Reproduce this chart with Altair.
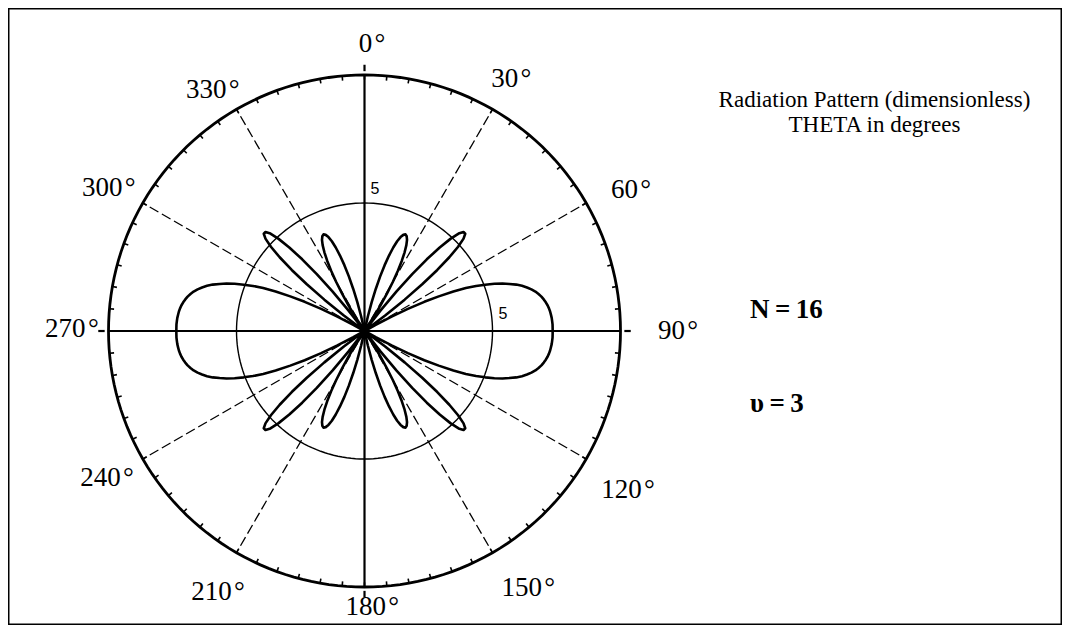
import altair as alt
import pandas as pd

# ---------------- data ----------------
# Radiation pattern for one quadrant (THETA measured from 0 deg at top, clockwise).
# The picture is symmetric about both axes, so the other quadrants mirror these values.
theta_quadrant = list(range(0, 91))
r_quadrant = (
    [0, 0, 0, 0, 0, 0, 0, 0, 0, 0, 0, 0]                                   # 0-11
    + [0, 0.58, 1.16, 1.70, 2.22, 2.69, 3.10, 3.45, 3.73, 3.93, 4.05, 4.10,
       4.05, 3.93, 3.73, 3.45, 3.10, 2.69, 2.22, 1.70, 1.16, 0.58, 0]      # 12-34
    + [0, 0, 0]                                                            # 35-37
    + [1.01, 1.99, 2.90, 3.71, 4.39, 4.92, 5.29, 5.47, 5.47, 5.29, 4.92,
       4.39, 3.71, 2.90, 1.99, 1.01, 0]                                    # 38-54
    + [0, 0, 0, 0, 0, 0]                                                   # 55-60
    + [0.5, 1.2, 1.9, 2.6, 3.2, 3.8, 4.3, 4.7, 5.05, 5.4, 5.7, 5.95, 6.2,
       6.4, 6.57, 6.72, 6.85, 6.95, 7.04, 7.11, 7.17, 7.22, 7.26, 7.29,
       7.31, 7.33, 7.34, 7.35, 7.35, 7.35]                                 # 61-90
)

grid_radii = [5, 10]
dashed_angles = [30, 60, 120, 150, 210, 240, 300, 330]
solid_angles = [0, 90, 180, 270]
angle_labels = ["0\u200a°", "30\u200a°", "60\u200a°", "90\u200a°", "120\u200a°", "150\u200a°",
                "180\u200a°", "210\u200a°", "240\u200a°", "270\u200a°", "300\u200a°", "330\u200a°"]
label_angles = [1.5, 30.2, 62.1, 90, 121.1, 147.5, 178.4, 209.3, 240.3, 270.4, 299.2, 327.8]
label_radii = [11.2, 11.39, 11.78, 12.25, 12.02, 11.9, 10.8, 11.7, 11.58, 11.43, 11.44, 11.12]
radial_labels = ["5", "5"]
radial_label_x = [0.41, 5.41]
radial_label_y = [5.55, 0.66]

title_lines = ["Radiation Pattern (dimensionless)", "THETA in degrees"]
title_x = [19.92, 19.92]
title_y = [8.76, 7.79]
param_texts = ["N\u2009=\u200916", "υ\u2009=\u20093"]
param_x = [15.06, 15.06]
param_y = [0.51, -3.16]

# ---------------- tables ----------------
pts = []
for t, r in zip(theta_quadrant, r_quadrant):
    pts.append((t, r))
for t, r in zip(theta_quadrant[::-1], r_quadrant[::-1]):
    pts.append((180 - t, r))
for t, r in zip(theta_quadrant, r_quadrant):
    pts.append((180 + t, r))
for t, r in zip(theta_quadrant[::-1], r_quadrant[::-1]):
    pts.append((360 - t, r))
pattern = pd.DataFrame({"theta": [p[0] for p in pts],
                        "r": [p[1] for p in pts],
                        "i": list(range(len(pts)))})

circ_angles = list(range(0, 362, 2))
circles = pd.DataFrame({
    "theta": circ_angles * 2,
    "r": [grid_radii[0]] * len(circ_angles) + [grid_radii[1]] * len(circ_angles),
    "c": ["inner"] * len(circ_angles) + ["outer"] * len(circ_angles),
    "i": list(range(len(circ_angles))) * 2,
})

dashed = pd.DataFrame({"theta": dashed_angles, "r1": 0, "r2": 10})
solid = pd.DataFrame({"theta": solid_angles, "r1": 0, "r2": 10})
outer_ticks = pd.DataFrame({"theta": solid_angles, "r1": 10.15, "r2": 10.4})
ticks = pd.DataFrame({"theta": list(range(0, 360, 5)), "r1": 9.82, "r2": 10})
labels = pd.DataFrame({"label": angle_labels, "theta": label_angles, "r": label_radii})
rlabels = pd.DataFrame({"label": radial_labels, "x": radial_label_x, "y": radial_label_y})
titles = pd.DataFrame({"label": title_lines, "x": title_x, "y": title_y})
params = pd.DataFrame({"label": param_texts, "x": param_x, "y": param_y})

# ---------------- scales ----------------
xs = alt.Scale(domain=[-13.926, 27.246], nice=False, zero=False)
ys = alt.Scale(domain=[-11.484, 12.617], nice=False, zero=False)

def X(f="x"):
    return alt.X(f + ":Q", scale=xs, axis=None)

def Y(f="y"):
    return alt.Y(f + ":Q", scale=ys, axis=None)

def polar(ch):
    return ch.transform_calculate(
        x="datum.r*sin(datum.theta*PI/180)",
        y="datum.r*cos(datum.theta*PI/180)",
    )

def polar_rule(ch):
    return ch.transform_calculate(
        x="datum.r1*sin(datum.theta*PI/180)",
        y="datum.r1*cos(datum.theta*PI/180)",
        x2="datum.r2*sin(datum.theta*PI/180)",
        y2="datum.r2*cos(datum.theta*PI/180)",
    )

inner_circle = polar(alt.Chart(circles).transform_filter("datum.c == 'inner'")).mark_line(
    color="black", strokeWidth=1.4).encode(x=X(), y=Y(), order="i:Q")
outer_circle = polar(alt.Chart(circles).transform_filter("datum.c == 'outer'")).mark_line(
    color="black", strokeWidth=2.8).encode(x=X(), y=Y(), order="i:Q")

dashed_lines = polar_rule(alt.Chart(dashed)).mark_rule(
    color="black", strokeWidth=1.3, strokeDash=[10, 4]).encode(x=X(), y=Y(), x2="x2:Q", y2="y2:Q")
solid_lines = polar_rule(alt.Chart(solid)).mark_rule(
    color="black", strokeWidth=2.2).encode(x=X(), y=Y(), x2="x2:Q", y2="y2:Q")
outer_tick_lines = polar_rule(alt.Chart(outer_ticks)).mark_rule(
    color="black", strokeWidth=2.2).encode(x=X(), y=Y(), x2="x2:Q", y2="y2:Q")
tick_lines = polar_rule(alt.Chart(ticks)).mark_rule(
    color="black", strokeWidth=1.6).encode(x=X(), y=Y(), x2="x2:Q", y2="y2:Q")

pattern_line = polar(alt.Chart(pattern)).mark_line(
    color="black", strokeWidth=2.6, strokeJoin="round").encode(x=X(), y=Y(), order="i:Q")

angle_text = polar(alt.Chart(labels)).mark_text(
    font="Liberation Serif", fontSize=27, align="center", baseline="middle", color="black"
).encode(x=X(), y=Y(), text="label:N")

radial_text = alt.Chart(rlabels).mark_text(
    font="Liberation Sans", fontSize=16, align="center", baseline="middle", color="black"
).encode(x=X(), y=Y(), text="label:N")

title_text = alt.Chart(titles).mark_text(
    font="Liberation Serif", fontSize=23, align="center", baseline="alphabetic", color="black"
).encode(x=X(), y=Y(), text="label:N")

param_text = alt.Chart(params).mark_text(
    font="Liberation Serif", fontSize=27, fontWeight="bold", align="left",
    baseline="alphabetic", color="black"
).encode(x=X(), y=Y(), text="label:N")

chart = alt.layer(
    inner_circle, dashed_lines, solid_lines, outer_circle, tick_lines, outer_tick_lines,
    pattern_line, angle_text, radial_text, title_text, param_text
).properties(
    width=1054, height=617, padding=0
).configure_view(
    stroke="black", strokeWidth=3
)

chart.save("out.html", embed_options={"renderer": "svg", "actions": False})
